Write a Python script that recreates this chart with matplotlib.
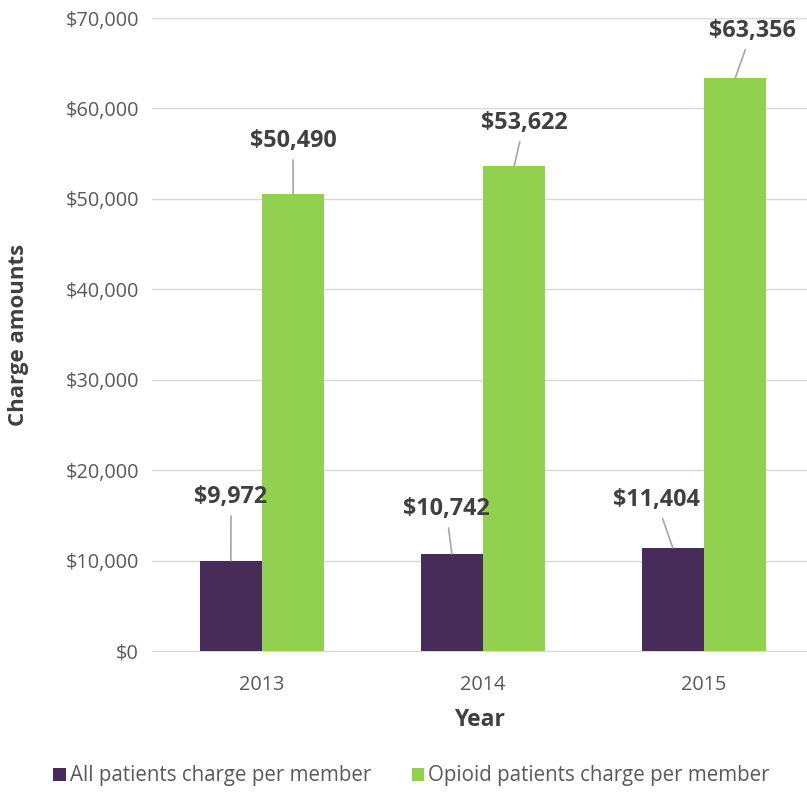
import numpy as np
import matplotlib.pyplot as plt
from matplotlib.ticker import FuncFormatter

years = ["2013", "2014", "2015"]
all_patients = [9972, 10742, 11404]
opioid_patients = [50490, 53622, 63356]
series_names = ["All patients charge per member", "Opioid patients charge per member"]

# label placement (data coords) for the callouts
all_label_xy = [(-0.14, 17030), (0.833, 15700), (1.783, 16700)]
opioid_label_xy = [(0.14, 56400), (1.186, 58390), (2.217, 68560)]

plt.rcParams['font.family'] = ['Open Sans', 'DejaVu Sans']

dark = "#472C5A"
green = "#92D050"
txt = "#404040"
tick_col = "#595959"
grid_col = "#D9D9D9"

fig = plt.figure(figsize=(8.07, 7.92), dpi=100)
ax = fig.add_axes([151.5 / 807, 1 - 651 / 792, (807 - 151.5) / 807, (651 - 18) / 792])

x = np.arange(len(years))
w = 0.282
ax.bar(x - w / 2, all_patients, width=w, color=dark, label=series_names[0], zorder=3)
ax.bar(x + w / 2, opioid_patients, width=w, color=green, label=series_names[1], zorder=3)

for i in range(len(years)):
    for vals, pos, off in ((all_patients, all_label_xy, -w / 2), (opioid_patients, opioid_label_xy, w / 2)):
        ax.annotate(f"${vals[i]:,}", xy=(x[i] + off, vals[i]), xytext=pos[i],
                    ha="center", va="center", fontsize=16.8, fontweight="bold", color=txt,
                    arrowprops=dict(arrowstyle="-", color="#A6A6A6", lw=1.2,
                                    shrinkA=3, shrinkB=0), zorder=4)

ax.set_xlim(-0.5, 2.466)
ax.set_ylim(0, 70000)
ax.set_yticks(np.arange(0, 70001, 10000))
ax.yaxis.set_major_formatter(FuncFormatter(lambda v, p: f"${v:,.0f}"))
ax.set_xticks(x)
ax.set_xticklabels(years)
ax.tick_params(axis="both", length=0, labelsize=14.3, labelcolor=tick_col)
ax.tick_params(axis="x", pad=17)
ax.tick_params(axis="y", pad=9)
ax.grid(axis="y", color=grid_col, lw=1, zorder=0)
for s in ["top", "right", "left"]:
    ax.spines[s].set_visible(False)
ax.spines["bottom"].set_color(grid_col)

ax.set_xlabel("Year", fontsize=16.5, fontweight="bold", color=txt, labelpad=10)
ax.set_ylabel("Charge amounts", fontsize=16, fontweight="bold", color=txt, labelpad=26)

fig.legend(loc="center", bbox_to_anchor=(0.51, 1 - 776 / 792), ncol=2, frameon=False,
           fontsize=14.8, labelcolor=tick_col, handlelength=0.6, handleheight=0.6,
           handletextpad=0.2, columnspacing=2.0)

fig.savefig("out.png", dpi=100)
